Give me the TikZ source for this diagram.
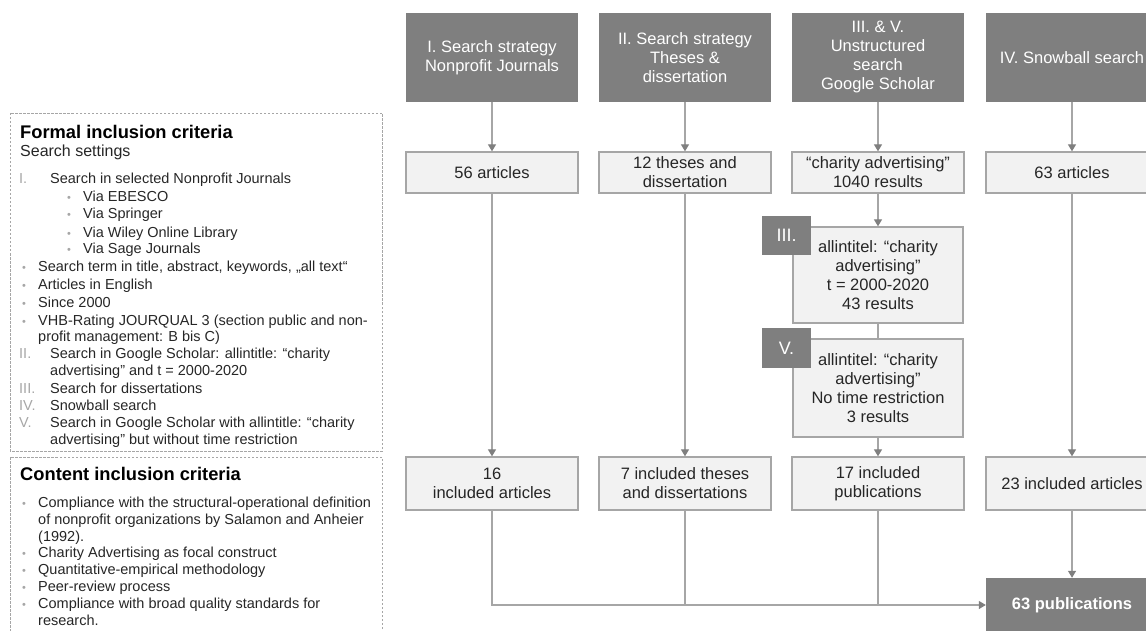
\documentclass[tikz,border=0pt]{standalone}
\usepackage{fontspec}
\setmainfont{Liberation Sans}
\usetikzlibrary{arrows.meta}
\definecolor{hdr}{HTML}{7F7F7F}
\definecolor{lightbox}{HTML}{F2F2F2}
\definecolor{boxline}{HTML}{A6A6A6}
\definecolor{txt}{HTML}{262626}
\definecolor{numgray}{HTML}{A6A6A6}
\begin{document}
\begin{tikzpicture}[x=1pt,y=-1pt,
  hdrbox/.style={fill=hdr, draw=none, text=white, minimum width=172pt, minimum height=89pt, align=center, font=\fontsize{16.5}{19}\selectfont, inner sep=0pt},
  lbox/.style={fill=lightbox, draw=boxline, line width=1.3pt, text=txt, minimum width=172pt, align=center, font=\fontsize{16.5}{19}\selectfont, inner sep=0pt},
  tagbox/.style={fill=hdr, draw=none, text=white, minimum width=49pt, minimum height=39pt, font=\fontsize{18}{20}\selectfont, inner sep=0pt},
  conn/.style={draw=boxline, line width=1.2pt},
  arr/.style={conn, -{Triangle[length=7pt,width=8pt,color=hdr]}},
  critbox/.style={draw=boxline, line width=0.9pt, dash pattern=on 2.5pt off 1.5pt},
  lt/.style={anchor=base west, inner sep=0pt, text=txt, font=\fontsize{14.5}{17}\selectfont},
  nt/.style={anchor=base west, inner sep=0pt, text=numgray, font=\fontsize{14.5}{17}\selectfont},
  bt/.style={anchor=base west, inner sep=0pt, text=numgray, font=\fontsize{11}{17}\selectfont},
  ttl/.style={anchor=base west, inner sep=0pt, text=black, font=\fontsize{18.3}{20}\selectfont\bfseries},
]
\useasboundingbox (0,0) rectangle (1146,631);
\clip (0,0) rectangle (1146,631);

% ---------- left criteria boxes ----------
\draw[critbox] (10,113) rectangle (382,451);
\draw[critbox] (10,457) rectangle (382,645);

\node[ttl] (ft0) at (20,139) {Formal inclusion criteria};
\node[lt, font=\fontsize{16}{18}\selectfont] (ft1) at (20,157) {Search settings};
\node[nt] (fn1) at (19,184) {I.};
\node[lt] (ft2) at (50,184) {Search in selected Nonprofit Journals};
\node[bt] (fb1) at (67,202) {•};
\node[lt] (ft3) at (83,202) {Via EBESCO};
\node[bt] (fb2) at (67,219) {•};
\node[lt] (ft4) at (83,219) {Via Springer};
\node[bt] (fb3) at (67,237) {•};
\node[lt] (ft5) at (83,237) {Via Wiley Online Library};
\node[bt] (fb4) at (67,254) {•};
\node[lt] (ft6) at (83,254) {Via Sage Journals};
\node[bt] (fb5) at (22,272) {•};
\node[lt] (ft7) at (38,272) {Search term in title, abstract, keywords, „all text“};
\node[bt] (fb6) at (22,289) {•};
\node[lt] (ft8) at (38,289) {Articles in English};
\node[bt] (fb7) at (22,307) {•};
\node[lt] (ft9) at (38,307) {Since 2000};
\node[bt] (fb8) at (22,325) {•};
\node[lt] (ft10) at (38,325) {VHB-Rating JOURQUAL 3 (section public and non-};
\node[lt] (ft11) at (38,341) {profit management: B bis C)};
\node[nt] (fn2) at (19,358) {II.};
\node[lt] (ft12) at (50,358) {Search in Google Scholar: allintitle: “charity};
\node[lt] (ft13) at (50,375) {advertising” and t = 2000-2020};
\node[nt] (fn3) at (19,393) {III.};
\node[lt] (ft14) at (50,393) {Search for dissertations};
\node[nt] (fn4) at (19,410) {IV.};
\node[lt] (ft15) at (50,410) {Snowball search};
\node[nt] (fn5) at (19,427) {V.};
\node[lt] (ft16) at (50,427) {Search in Google Scholar with allintitle: “charity};
\node[lt] (ft17) at (50,444) {advertising” but without time restriction};

\node[ttl] (ct0) at (20,480) {Content inclusion criteria};
\node[bt] (cb1) at (22,507) {•};
\node[lt] (ct1) at (38,507) {Compliance with the structural-operational definition};
\node[lt] (ct2) at (38,524) {of nonprofit organizations by Salamon and Anheier};
\node[lt] (ct3) at (38,541) {(1992).};
\node[bt] (cb2) at (22,557) {•};
\node[lt] (ct4) at (38,557) {Charity Advertising as focal construct};
\node[bt] (cb3) at (22,574) {•};
\node[lt] (ct5) at (38,574) {Quantitative-empirical methodology};
\node[bt] (cb4) at (22,591) {•};
\node[lt] (ct6) at (38,591) {Peer-review process};
\node[bt] (cb5) at (22,608) {•};
\node[lt] (ct7) at (38,608) {Compliance with broad quality standards for};
\node[lt] (ct8) at (38,625) {research.};

% ---------- header boxes ----------
\node[hdrbox] (h1) at (492,57.5) {I. Search strategy\\Nonprofit Journals};
\node[hdrbox] (h2) at (685,57.5) {II. Search strategy\\Theses \&\\dissertation};
\node[hdrbox] (h3) at (878,57.5) {III. \& V.\\Unstructured\\search\\Google Scholar};
\node[hdrbox] (h4) at (1072,57.5) {IV. Snowball search};

% ---------- second row ----------
\node[lbox, minimum height=41pt] (r1) at (492,172.5) {56 articles};
\node[lbox, minimum height=41pt] (r2) at (685,172.5) {12 theses and\\dissertation};
\node[lbox, minimum height=41pt] (r3) at (878,172.5) {“charity advertising”\\1040 results};
\node[lbox, minimum height=41pt] (r4) at (1072,172.5) {63 articles};

% ---------- III and V boxes ----------
\node[lbox, minimum width=170pt, minimum height=96pt] (b3) at (878,275) {allintitel: “charity\\advertising”\\t = 2000-2020\\43 results};
\node[tagbox] (tg3) at (786.5,235.5) {III.};
\node[lbox, minimum width=170pt, minimum height=98pt] (b5) at (878,388) {allintitel: “charity\\advertising”\\No time restriction\\3 results};
\node[tagbox, minimum height=40pt] (tg5) at (786.5,348) {V.};

% ---------- third row ----------
\node[lbox, minimum height=53pt] (f1) at (492,483.5) {16\\included articles};
\node[lbox, minimum height=53pt] (f2) at (685,483.5) {7 included theses\\and dissertations};
\node[lbox, minimum height=53pt] (f3) at (878,483.5) {17 included\\publications};
\node[lbox, minimum height=53pt] (f4) at (1072,483.5) {23 included articles};

% ---------- result ----------
\node[hdrbox, minimum height=54pt, font=\fontsize{16.5}{19}\selectfont\bfseries] (pub) at (1072,605) {63 publications};

% ---------- connectors ----------
\draw[arr] (h1) -- (r1);
\draw[arr] (h2) -- (r2);
\draw[arr] (h3) -- (r3);
\draw[arr] (h4) -- (r4);
\draw[arr] (r1) -- (f1);
\draw[arr] (r2) -- (f2);
\draw[arr] (r3) -- (b3);
\draw[conn] (b3) -- (b5);
\draw[arr] (b5) -- (f3);
\draw[arr] (r4) -- (f4);
\draw[arr] (f4) -- (pub);
\draw[arr] (f1.south) |- (pub.west);
\draw[conn] (f2.south) -- (f2.south |- pub.west);
\draw[conn] (f3.south) -- (f3.south |- pub.west);
\end{tikzpicture}
\end{document}
